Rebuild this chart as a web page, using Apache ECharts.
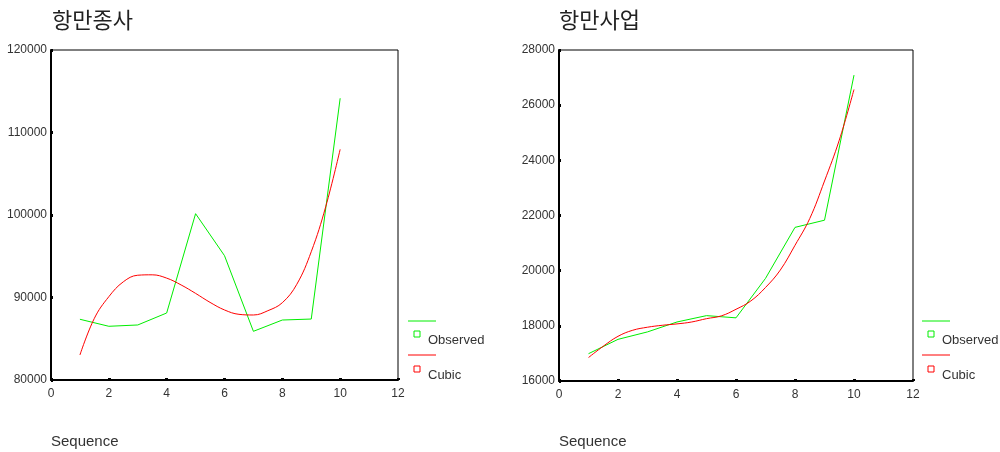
<!DOCTYPE html>
<html>
<head>
<meta charset="utf-8">
<script src="https://cdn.jsdelivr.net/npm/echarts@6/dist/echarts.min.js"></script>
<style>
  html, body { margin: 0; padding: 0; background: #fff; }
  #chart { width: 1000px; height: 452px; }
</style>
</head>
<body>
<div id="chart"></div>
<script>
// 관측 시점 (Sequence)
var seq = [1, 2, 3, 4, 5, 6, 7, 8, 9, 10];
// cubic 곡선을 읽은 위치
var fitSeq = [1, 1.5, 2, 2.5, 3, 3.5, 4, 4.5, 5, 5.5, 6, 6.5, 7, 7.5, 8, 8.5, 9, 9.5, 10];

// 항만종사
var observedA = [87360, 86510, 86670, 88120, 100160, 95070, 85900, 87270, 87390, 114150];
var cubicA = [83030, 87480, 90100, 91900, 92700, 92750, 92350, 91520, 90500, 89410,
  88490, 87960, 87880, 88400, 89370, 91600, 95550, 101000, 107960];

// 항만사업
var observedB = [16990, 17510, 17780, 18140, 18370, 18290, 19720, 21570, 21830, 27090];
var cubicB = [16850, 17260, 17620, 17840, 17950, 18020, 18070, 18140, 18260, 18360,
  18600, 18900, 19390, 20020, 20920, 21890, 23250, 24730, 26570];

var titles = ['항만종사', '항만사업'];
var xTicks = { min: 0, max: 12, interval: 2 };
var yTicksA = { min: 80000, max: 120000, interval: 10000 };
var yTicksB = { min: 16000, max: 28000, interval: 2000 };

function pairs (xs, ys) {
  return xs.map(function (x, i) { return [x, ys[i]]; });
}

const myChart = echarts.init(document.getElementById('chart'));

var labelStyle = { color: '#333', fontSize: 12, fontFamily: 'Liberation Sans' };

function makeX (idx) {
  return {
    gridIndex: idx, type: 'value',
    min: xTicks.min, max: xTicks.max, interval: xTicks.interval,
    splitLine: { show: false },
    axisLine: { onZero: false, lineStyle: { color: '#000', width: 2 } },
    axisTick: { show: true, inside: true, length: 2, lineStyle: { color: '#000', width: 3 } },
    axisLabel: Object.assign({ margin: 8 }, labelStyle)
  };
}
function makeY (idx, t) {
  return {
    gridIndex: idx, type: 'value',
    min: t.min, max: t.max, interval: t.interval,
    splitLine: { show: false },
    axisLine: { show: true, lineStyle: { color: '#000', width: 2 } },
    axisTick: { show: true, inside: true, length: 2, lineStyle: { color: '#000', width: 3 } },
    axisLabel: Object.assign({ margin: 4, formatter: function (v) { return String(v); } }, labelStyle)
  };
}

// 범례 (선 + 작은 네모 + 글자)
function legend (x) {
  return [
    { type: 'line', shape: { x1: x, y1: 321, x2: x + 28, y2: 321 }, style: { stroke: '#00ee00', lineWidth: 1 } },
    { type: 'rect', shape: { x: x + 6, y: 331, width: 6, height: 6 }, style: { fill: 'none', stroke: '#00ee00', lineWidth: 1 } },
    { type: 'text', x: x + 20, y: 340, style: { text: 'Observed', fill: '#333', font: '13px "Liberation Sans"', verticalAlign: 'middle' } },
    { type: 'line', shape: { x1: x, y1: 355, x2: x + 28, y2: 355 }, style: { stroke: '#ff0000', lineWidth: 1 } },
    { type: 'rect', shape: { x: x + 6, y: 366, width: 6, height: 6 }, style: { fill: 'none', stroke: '#ff0000', lineWidth: 1 } },
    { type: 'text', x: x + 20, y: 375, style: { text: 'Cubic', fill: '#333', font: '13px "Liberation Sans"', verticalAlign: 'middle' } }
  ];
}

var titleFont = { fontSize: 22, fontWeight: 'normal', color: '#222', fontFamily: 'Noto Sans CJK KR' };
var nameFont = { fontSize: 15, fontWeight: 'normal', color: '#333', fontFamily: 'Liberation Sans' };

const option = {
  animation: false,
  backgroundColor: '#fff',
  title: [
    { text: titles[0], left: 52, top: 9, padding: 0, textStyle: titleFont },
    { text: titles[1], left: 559, top: 9, padding: 0, textStyle: titleFont },
    { text: 'Sequence', left: 51, top: 434, padding: 0, textStyle: nameFont },
    { text: 'Sequence', left: 559, top: 434, padding: 0, textStyle: nameFont }
  ],
  grid: [
    { left: 51, top: 50, width: 347, height: 330, show: true, borderColor: '#000', borderWidth: 1 },
    { left: 559, top: 50, width: 354, height: 331, show: true, borderColor: '#000', borderWidth: 1 }
  ],
  xAxis: [makeX(0), makeX(1)],
  yAxis: [makeY(0, yTicksA), makeY(1, yTicksB)],
  graphic: legend(408).concat(legend(922)),
  series: [
    { name: 'Observed', type: 'line', xAxisIndex: 0, yAxisIndex: 0, data: pairs(seq, observedA),
      showSymbol: false, lineStyle: { color: '#00ee00', width: 1 } },
    { name: 'Cubic', type: 'line', xAxisIndex: 0, yAxisIndex: 0, data: pairs(fitSeq, cubicA),
      showSymbol: false, smooth: 0.4, lineStyle: { color: '#ff0000', width: 1 } },
    { name: 'Observed', type: 'line', xAxisIndex: 1, yAxisIndex: 1, data: pairs(seq, observedB),
      showSymbol: false, lineStyle: { color: '#00ee00', width: 1 } },
    { name: 'Cubic', type: 'line', xAxisIndex: 1, yAxisIndex: 1, data: pairs(fitSeq, cubicB),
      showSymbol: false, smooth: 0.4, lineStyle: { color: '#ff0000', width: 1 } }
  ]
};
myChart.setOption(option);
window.addEventListener('resize', function () {
  myChart.resize();
});
</script>
</body>
</html>
